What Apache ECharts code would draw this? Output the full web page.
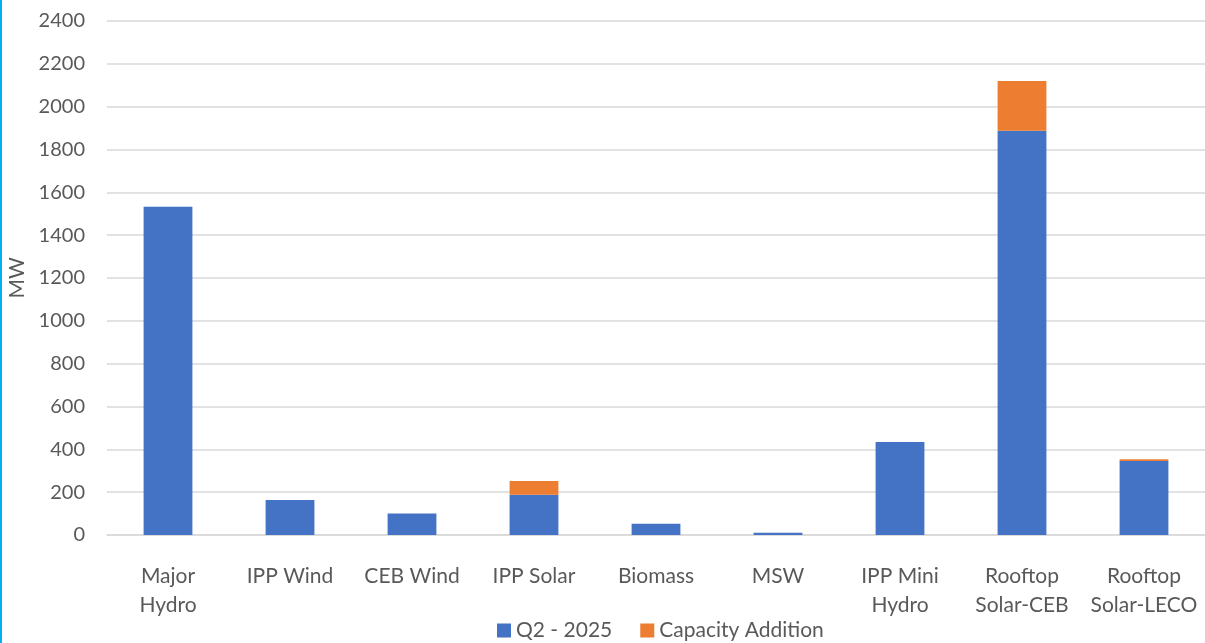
<!DOCTYPE html>
<html>
<head>
<meta charset="utf-8">
<script src="https://cdn.jsdelivr.net/npm/echarts@6/dist/echarts.min.js"></script>
<style>
html, body { margin: 0; padding: 0; background: #fff; }
#chart { width: 1203px; height: 643px; border-left: 2px solid #00b0f0; }
</style>
</head>
<body>
<div id="chart"></div>
<script>
const categories = ['Major\nHydro', 'IPP Wind', 'CEB Wind', 'IPP Solar', 'Biomass', 'MSW', 'IPP Mini\nHydro', 'Rooftop\nSolar-CEB', 'Rooftop\nSolar-LECO']
const q2_2025 = [1533, 163, 100, 188, 53, 10, 434, 1887, 346]
const capacityAddition = [0, 0, 0, 64, 0, 0, 0, 233, 8]

const textColor = '#595959'
const fontFamily = 'Lato, "Open Sans", sans-serif'

const chart = echarts.init(document.getElementById('chart'))

const option = {
  animation: false,
  textStyle: { fontFamily: fontFamily },
  grid: {
    left: 105,
    right: 0,
    top: 21,
    bottom: 108,
    outerBoundsMode: 'none'
  },
  legend: {
    top: 615,
    left: 490,
    itemWidth: 14,
    itemHeight: 14,
    itemGap: 28,
    icon: 'rect',
    textStyle: { color: textColor, fontSize: 21, fontFamily: fontFamily },
    data: ['Q2 - 2025', 'Capacity Addition']
  },
  xAxis: {
    type: 'category',
    data: categories,
    axisLine: { lineStyle: { color: '#d9d9d9', width: 1.5 } },
    axisTick: { show: false },
    axisLabel: { interval: 0, color: textColor, fontSize: 21, margin: 27, lineHeight: 29, fontFamily: fontFamily }
  },
  yAxis: {
    type: 'value',
    min: 0,
    max: 2400,
    interval: 200,
    name: 'MW',
    nameLocation: 'middle',
    nameGap: 76,
    nameRotate: 90,
    nameTextStyle: { color: textColor, fontSize: 21, fontFamily: fontFamily },
    axisLine: { show: false },
    axisTick: { show: false },
    axisLabel: { color: textColor, fontSize: 20, margin: 22, fontFamily: fontFamily, formatter: v => String(v) },
    splitLine: { lineStyle: { color: '#d9d9d9', width: 1.5 } }
  },
  series: [
    {
      name: 'Q2 - 2025',
      type: 'bar',
      stack: 'total',
      barWidth: '40%',
      itemStyle: { color: '#4472c4' },
      data: q2_2025
    },
    {
      name: 'Capacity Addition',
      type: 'bar',
      stack: 'total',
      barWidth: '40%',
      itemStyle: { color: '#ed7d31' },
      data: capacityAddition
    }
  ]
}

chart.setOption(option)

window.addEventListener('resize', () => {
  chart.resize()
})
</script>
</body>
</html>
